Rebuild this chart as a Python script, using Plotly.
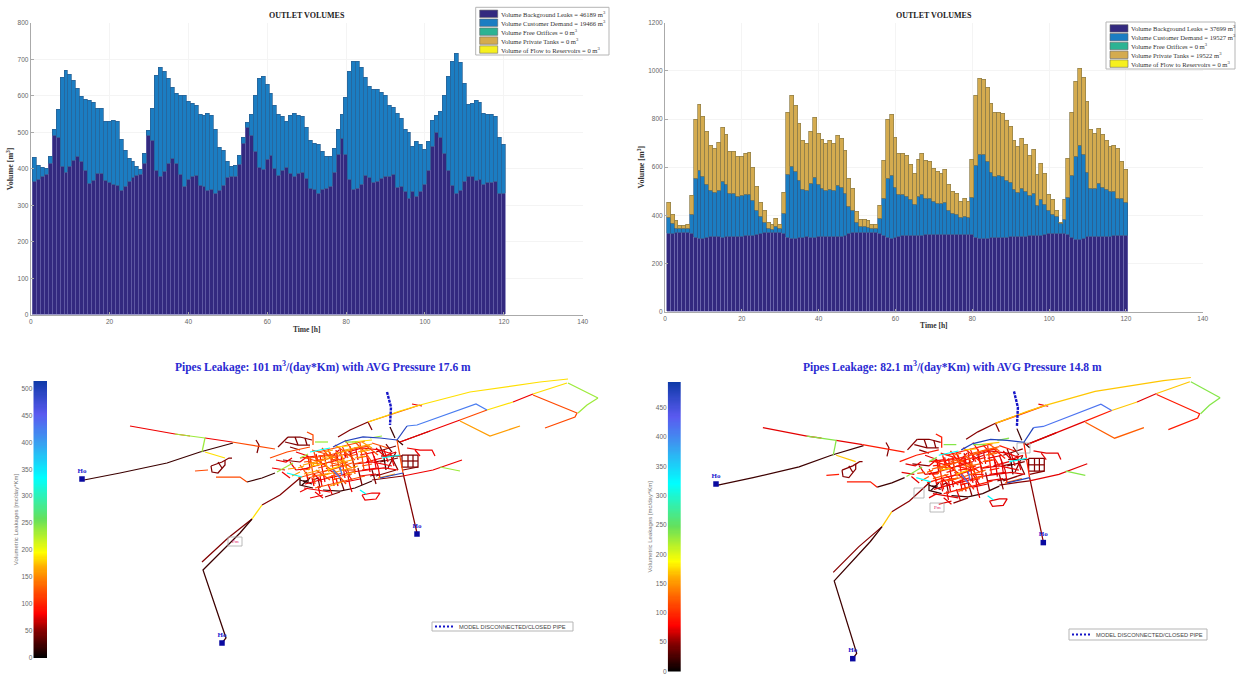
import numpy as np
import plotly.graph_objects as go

W, H = 1236, 675

hours = list(range(1, 121))

left_leaks = [365,370,378,385,415,492,485,405,390,405,422,433,420,395,360,368,388,388,367,362,
              357,355,340,350,365,375,380,385,413,490,478,395,378,392,415,428,413,383,352,370,
              378,380,353,352,340,343,332,340,354,376,378,378,412,470,512,492,447,403,397,424,
              437,400,380,395,404,388,378,388,390,374,347,342,331,342,347,351,390,438,482,438,
              370,342,345,358,380,376,362,365,372,379,379,383,349,351,338,319,338,324,338,356,
              394,461,499,486,442,394,353,331,340,365,379,379,368,371,358,363,362,365,333,333]
left_total = [430,410,402,400,432,507,562,650,668,657,640,620,597,590,587,581,565,565,528,530,
              532,530,481,450,428,420,405,398,442,505,565,655,676,667,648,623,607,601,600,584,
              578,572,549,545,550,546,508,459,449,420,407,408,436,485,527,549,601,648,653,630,
              607,572,547,543,530,545,552,545,543,514,476,470,465,447,433,433,456,508,547,595,
              666,692,692,677,650,625,616,616,609,601,572,567,552,538,506,499,461,473,465,453,
              474,531,545,557,600,652,692,715,691,634,576,577,587,581,552,547,547,543,486,465]

right_leaks = [323,325,326,327,328,328,325,307,303,303,308,310,310,310,308,310,311,312,313,313,
               314,315,316,318,322,326,330,330,330,328,322,308,303,302,306,308,310,309,309,310,
               310,310,310,311,311,312,317,322,326,328,328,328,327,327,326,322,316,306,303,308,
               312,314,315,316,316,316,317,318,318,318,318,318,318,318,319,320,320,320,320,318,
               309,302,302,304,306,307,307,308,309,310,310,311,311,312,314,314,316,317,318,322,
               323,324,325,325,318,306,300,300,303,311,310,311,312,312,313,313,314,315,315,316]
right_demand_top = [390,367,346,343,343,343,401,553,587,560,529,501,495,501,538,526,491,490,477,482,
                    487,487,459,419,394,371,346,342,353,346,408,567,602,581,543,508,504,533,558,526,
                    509,502,505,501,522,515,489,436,419,369,353,352,349,343,343,385,471,553,565,516,
                    486,484,477,464,446,477,487,470,468,457,447,447,454,419,408,401,390,394,390,473,
                    605,653,651,623,579,561,563,561,545,534,505,495,512,498,480,491,441,464,443,419,
                    404,394,367,381,475,563,644,688,653,577,509,509,530,516,505,500,498,468,468,452]
right_total = [452,404,376,358,358,362,480,799,861,811,746,689,675,702,765,736,664,664,643,643,
               657,659,600,519,452,419,371,360,386,360,495,826,895,855,782,709,699,746,807,738,
               713,696,709,699,729,717,667,554,512,415,383,383,376,362,362,440,626,799,819,722,
               656,656,648,609,574,630,657,627,623,595,581,574,591,526,498,490,457,468,457,630,
               896,969,965,931,862,828,828,822,794,767,710,685,717,692,648,671,570,616,572,484,
               464,418,371,464,634,826,955,1008,973,872,757,738,761,733,709,685,689,675,624,588]
no_volume = [0] * 120

left_legend = ["Volume Background Leaks = 46189 m<sup>3</sup>", "Volume Customer Demand = 19466 m<sup>3</sup>",
               "Volume Free Orifices = 0 m<sup>3</sup>", "Volume Private Tanks = 0 m<sup>3</sup>",
               "Volume of Flow to Reservoirs = 0 m<sup>3</sup>"]
right_legend = ["Volume Background Leaks = 37699 m<sup>3</sup>", "Volume Customer Demand = 19527 m<sup>3</sup>",
                "Volume Free Orifices = 0 m<sup>3</sup>", "Volume Private Tanks = 19522 m<sup>3</sup>",
                "Volume of Flow to Reservoirs = 0 m<sup>3</sup>"]
series_colors = ["#33297f", "#1b7dc2", "#2cb393", "#d4ab4f", "#f6f01e"]
edge_colors = ["#716cb0", "#2a5f92", "#2cb393", "#8f7d48", "#f6f01e"]

# Pipe network, in one shared map coordinate system, grouped by leakage class.
black_pipes = [
    [(84,480),(120,473),(167,463),(200,452),(233,443)],
    [(222,643),(226,638),(203,570),(240,533),(252,519)],
    [(300,477),(300,485),(313,488)], [(323,490),(340,491),(355,488),(372,481)],
    [(395,438),(390,427)], [(247,482),(262,478),(275,473)], [(303,481),(309,481)],
    [(384,458),(386,470)], [(397,440),(403,445)], [(300,480),(312,484)], [(302,485),(310,478)],
]
maroon_pipes = [
    [(202,562),(228,538),(252,519)], [(262,505),(280,495),(300,478)],
    [(403,473),(410,503),(417,533)], [(211,466),(222,462),(229,458),(232,458)],
    [(211,466),(212,472),(218,473),(225,465),(225,460)], [(218,462),(222,468)],
    [(288,437),(300,437),(312,440)], [(278,447),(288,437)], [(285,442),(298,445),(310,445)],
    [(290,447),(300,450)], [(295,437),(298,445)], [(305,438),(307,445)],
    [(338,437),(350,430),(368,422)], [(368,422),(372,430)], [(400,442),(430,431)],
    [(402,455),(418,455),(418,467),(402,467),(402,455)], [(408,455),(408,467)],
    [(413,455),(413,467)], [(402,461),(418,461)], [(381,456),(402,456)],
    [(372,480),(403,476)], [(403,470),(418,467)], [(313,480),(318,478),(320,488)],
    [(340,478),(344,490)], [(358,468),(362,485)], [(325,497),(340,492)],
    [(283,460),(300,462)], [(256,440),(259,445),(257,453)],
    [(376,452),(396,446)], [(380,446),(384,456)], [(386,444),(392,452)], [(372,470),(376,484)],
    [(350,452),(355,468)], [(380,462),(398,458)], [(388,468),(396,452)], [(376,476),(396,470)],
    [(375,462),(385,460)], [(370,476),(380,474)], [(392,458),(398,470)],
]
red_pipes = [
    [(130,426),(175,434)], [(205,438),(232,442)], [(403,476),(420,473),(433,470),(462,460)],
    [(407,448),(420,450),(432,450),(435,456)], [(415,450),(420,456)],
    [(310,498),(323,495)], [(315,492),(323,498)], [(362,495),(372,493),(380,493),(376,499),(365,500),(362,495)],
    [(348,452),(362,448),(380,450),(392,454)], [(376,448),(384,456),(396,452)],
    [(355,464),(372,462),(392,466)], [(352,472),(368,470),(384,468),(398,470)],
    [(360,476),(376,474)], [(378,466),(380,478)], [(368,458),(370,472)], [(345,482),(360,479)],
    [(300,470),(315,466),(330,462),(345,458)], [(305,484),(320,480),(338,476),(352,472)],
    [(320,455),(322,468),(325,482)], [(340,449),(342,462),(345,478)], [(533,394),(513,402)],
    [(400,442),(430,431),(460,420)], [(306,472),(308,480)], [(332,475),(334,486)],
    [(350,486),(352,492)], [(296,452),(308,456),(300,462)], [(412,404),(422,406)],
    [(296,470),(310,468)], [(300,458),(316,456)], [(304,488),(330,492)], [(318,486),(320,494)],
    [(328,484),(332,494)], [(345,470),(352,480)], [(360,455),(375,452)], [(366,462),(382,458)],
    [(372,452),(378,466)], [(384,450),(388,462)], [(390,452),(394,466)], [(362,470),(378,468)],
    [(326,468),(336,474)], [(314,474),(322,482)], [(344,456),(356,452)], [(333,456),(339,450)],
    [(272,468),(285,470)], [(276,460),(286,462),(292,458)], [(290,462),(296,470)], [(282,472),(290,478)],
    [(300,492),(308,488)], [(308,456),(310,468)], [(316,454),(318,462)], [(324,454),(326,464)],
    [(336,450),(338,460)], [(344,450),(346,458)], [(356,450),(358,460)], [(366,452),(368,462)],
    [(374,456),(376,468)], [(312,478),(314,486)], [(320,476),(322,486)], [(336,478),(338,486)],
    [(348,476),(350,486)],
]
orange_pipes = [
    [(175,434),(190,436)], [(232,442),(260,447),(275,449)], [(216,477),(240,477),(247,482)],
    [(270,458),(287,452),(310,447)], [(195,471),(208,470)], [(533,395),(577,413),(575,417),(545,428)],
    [(460,420),(487,410)], [(310,458),(325,456),(342,452),(358,448)],
    [(298,478),(312,474),(330,470),(348,465)], [(318,452),(335,448),(350,444),(365,441)],
    [(315,488),(332,484),(350,480),(365,476)], [(310,458),(312,470),(315,484)],
    [(330,452),(332,465),(335,480)], [(350,446),(352,458),(355,474)], [(360,443),(362,455),(364,470)],
    [(316,462),(330,458),(346,454)], [(322,472),(338,467),(352,463)], [(326,478),(342,473)],
    [(328,450),(334,462)], [(336,456),(340,470)], [(314,452),(318,466)], [(346,466),(350,476)],
    [(307,432),(313,435),(313,445)], [(397,440),(403,473)], [(368,422),(395,413),(420,405)],
    [(335,445),(345,452),(355,460)], [(345,440),(352,450)], [(355,442),(365,452),(372,462)],
    [(365,445),(378,455)], [(372,443),(388,448)], [(300,465),(308,476)], [(306,458),(320,462),(332,470)],
    [(312,450),(326,454),(340,460),(352,468)], [(322,448),(330,458)], [(316,470),(330,480)],
    [(334,470),(346,484)], [(308,462),(326,465)], [(312,476),(326,474)], [(328,462),(344,466)],
    [(340,470),(356,470)], [(316,458),(322,464)], [(342,446),(348,458)], [(354,448),(370,446)],
    [(304,458),(312,457)], [(304,462),(312,461)], [(318,456),(326,455)], [(318,460),(326,459)],
    [(330,456),(338,455)], [(330,460),(338,459)], [(304,470),(310,469)], [(318,468),(326,466)],
    [(330,466),(338,465)], [(340,464),(348,462)], [(308,478),(316,476)], [(320,476),(328,474)],
    [(332,480),(340,478)], [(342,476),(352,474)], [(350,456),(358,454)], [(354,464),(362,462)],
    [(358,458),(368,456)], [(362,466),(372,464)],
]
amber_pipes = [
    [(303,465),(318,461),(335,457)], [(325,475),(340,471),(358,466)], [(345,450),(360,447),(372,444)],
    [(304,474),(320,470)], [(338,463),(352,460)], [(318,476),(330,473)], [(325,461),(329,472)],
    [(342,456),(346,468)], [(460,421),(490,436),(520,426)], [(378,478),(395,474)], [(288,469),(296,468)],
    [(358,452),(368,449)], [(362,442),(372,448)], [(330,486),(342,482)], [(292,476),(300,472)],
    [(336,452),(342,456)], [(308,470),(314,464)], [(322,458),(332,456)], [(310,464),(318,463)],
    [(335,462),(345,460)], [(340,452),(352,450)], [(355,458),(365,456)], [(345,474),(355,472)],
    [(360,452),(370,450)], [(325,452),(333,450)], [(298,468),(304,466)],
]
yellow_pipes = [
    [(368,422),(400,411),(420,405),(470,392),(540,382),(568,379)], [(487,410),(513,402)],
    [(533,394),(567,383)], [(205,452),(225,458)], [(328,470),(340,466)], [(352,442),(372,440)],
    [(336,447),(348,446)], [(252,519),(262,505)], [(312,466),(322,464)],
]
lime_pipes = [
    [(175,434),(205,438)], [(205,438),(202,452)], [(440,467),(460,471)], [(568,383),(598,398)],
    [(598,398),(587,405),(578,413)], [(315,442),(328,442)], [(370,438),(382,436)], [(277,472),(293,463)],
    [(345,442),(358,442)], [(300,458),(308,454)],
]
cyan_pipes = [
    [(310,452),(330,448)], [(287,473),(302,477)], [(360,490),(366,494)], [(382,458),(400,455)],
]
blue_pipes = [
    [(407,426),(417,425),(476,404),(487,410)], [(340,467),(342,475)], [(333,470),(340,478)],
]
navy_pipes = [
    [(333,447),(345,441),(363,437),(380,438),(397,440)], [(397,440),(407,426)], [(403,473),(380,478)],
]
disconnected_pipes = [[(387,392),(391,407),(390,425)]]

pipe_groups = [maroon_pipes, black_pipes, red_pipes, orange_pipes, amber_pipes, yellow_pipes,
               lime_pipes, cyan_pipes, blue_pipes, navy_pipes]
leak_left = [48, 22, 78, 120, 160, 185, 235, 330, 425, 495]
leak_right = [48, 22, 72, 92, 125, 170, 235, 320, 415, 480]

reservoir_x = [82, 222, 417]
reservoir_y = [479, 643, 534]
reservoir_names = ["Ho", "Ho", "Ho"]

cbar_stops = [[0, "#000000"], [0.10, "#8a0000"], [0.16, "#ff0000"], [0.25, "#ff5a00"], [0.33, "#ffb000"],
              [0.38, "#ffff00"], [0.50, "#66e05a"], [0.65, "#00ffff"], [0.78, "#3a9cf0"], [0.88, "#5a5af0"],
              [1, "#0f3aa8"]]


def color_at(frac):
    xs = [s[0] for s in cbar_stops]
    rgb = [[int(s[1][i:i + 2], 16) for i in (1, 3, 5)] for s in cbar_stops]
    return "rgb(%d,%d,%d)" % tuple(np.interp(frac, xs, [c[k] for c in rgb]) for k in range(3))


def dom_x(a, b):
    return [a / W, b / W]


def dom_y(top, bottom):
    return [1 - bottom / H, 1 - top / H]


fig = go.Figure()
layout = dict(width=W, height=H, margin=dict(l=0, r=0, t=0, b=0, pad=0, autoexpand=False), paper_bgcolor="white",
              plot_bgcolor="white", showlegend=False, barmode="stack", bargap=0, shapes=[], annotations=[])
serif = "Liberation Serif"
sans = "Liberation Sans"


def add_bars(n, xdom, ydom, ymax, ytick, series):
    for vals, color, edge in zip(series, series_colors, edge_colors):
        width = 0.7 if any(vals) else 0
        fig.add_trace(go.Bar(x=hours, y=vals, marker=dict(color=color, line=dict(color=edge, width=width)),
                             xaxis=f"x{n}", yaxis=f"y{n}"))
    axis = dict(showgrid=True, gridcolor="#f4f4f4", gridwidth=1, zeroline=False, showline=True, linecolor="#aaaaaa",
                ticks="inside", ticklen=3, tickcolor="#aaaaaa", tickfont=dict(family=sans, size=6.5, color="#666666"))
    layout[f"xaxis{n}"] = dict(domain=dom_x(*xdom), range=[0, 140], dtick=20, anchor=f"y{n}",
                               title=dict(text="<b>Time [h]</b>", standoff=2, font=dict(family=serif, size=7.5, color="#333333")),
                               **axis)
    layout[f"yaxis{n}"] = dict(domain=dom_y(*ydom), range=[0, ymax], dtick=ytick, anchor=f"x{n}",
                               title=dict(text="<b>Volume [m<sup>3</sup>]</b>", standoff=2,
                                          font=dict(family=serif, size=8, color="#333333")), **axis)


def text(x, y, s, size, color, family, anchor="left", angle=0):
    layout["annotations"].append(dict(x=x / W, y=1 - y / H, xref="paper", yref="paper", text=s, showarrow=False,
                                      xanchor=anchor, yanchor="middle", textangle=angle, borderpad=0,
                                      font=dict(size=size, color=color, family=family)))


def rect(x0, y0, x1, y1, line="#b5b5b5", fill="white", width=1):
    layout["shapes"].append(dict(type="rect", xref="paper", yref="paper", x0=x0 / W, x1=x1 / W,
                                 y0=1 - y0 / H, y1=1 - y1 / H, line=dict(color=line, width=width), fillcolor=fill,
                                 layer="above"))


def bar_legend(x0, y0, x1, y1, labels):
    rect(x0, y0, x1, y1)
    step = (y1 - y0 - 3) / 5
    for i, (lab, col) in enumerate(zip(labels, series_colors)):
        yc = y0 + 2 + step * (i + 0.5)
        rect(x0 + 4, yc - 3.7, x0 + 22, yc + 3.7, line="#666666", fill=col, width=0.6)
        text(x0 + 24, yc, lab, 6.6, "#333333", serif)


add_bars(1, (30.7, 582.7), (22.7, 315), 800, 100,
         [left_leaks, [t - l for t, l in zip(left_total, left_leaks)], no_volume, no_volume, no_volume])
add_bars(2, (665, 1202.7), (22.7, 311.7), 1200, 200,
         [right_leaks, [d - l for d, l in zip(right_demand_top, right_leaks)], no_volume,
          [t - d for t, d in zip(right_total, right_demand_top)], no_volume])
text(306.5, 16, "<b>OUTLET VOLUMES</b>", 8, "#222222", serif, "center")
text(933.5, 16, "<b>OUTLET VOLUMES</b>", 8, "#222222", serif, "center")
bar_legend(475.7, 7.3, 609, 55, left_legend)
bar_legend(1106, 22, 1235, 69, right_legend)


def add_map(n, xdom, ydom, xr, yr, values, vmax, cbar_dom, cbar_ydom, tick_vals):
    for group, v in zip(pipe_groups, values):
        xs, ys = [], []
        for path in group:
            xs += [p[0] for p in path] + [None]
            ys += [p[1] for p in path] + [None]
        fig.add_trace(go.Scatter(x=xs, y=ys, mode="lines", line=dict(color=color_at(v / vmax), width=1.25),
                                 xaxis=f"x{n}", yaxis=f"y{n}", hoverinfo="skip"))
    xs, ys = [], []
    for path in disconnected_pipes:
        xs += [p[0] for p in path] + [None]
        ys += [p[1] for p in path] + [None]
    fig.add_trace(go.Scatter(x=xs, y=ys, mode="lines", line=dict(color="#1414c8", width=2.4, dash="3px,1px"),
                             xaxis=f"x{n}", yaxis=f"y{n}", name="MODEL DISCONNECTED/CLOSED PIPE"))
    fig.add_trace(go.Scatter(x=reservoir_x, y=reservoir_y, mode="markers+text", text=[f"<b>{s}</b>" for s in reservoir_names],
                             textposition="top center", textfont=dict(family=serif, size=7, color="#2020d0"),
                             marker=dict(symbol="square", size=5.5, color="#0a0aa0"),
                             xaxis=f"x{n}", yaxis=f"y{n}"))
    blank = dict(visible=False, showgrid=False, zeroline=False)
    layout[f"xaxis{n}"] = dict(domain=dom_x(*xdom), range=xr, anchor=f"y{n}", **blank)
    layout[f"yaxis{n}"] = dict(domain=dom_y(*ydom), range=yr, anchor=f"x{n}", **blank)
    # colour bar on its own axes
    m = n + 2
    levels = np.linspace(0, vmax, 256)
    fig.add_trace(go.Heatmap(x=[0], y=levels, z=[[v] for v in levels], zmin=0, zmax=vmax, showscale=False,
                             colorscale=cbar_stops, xaxis=f"x{m}", yaxis=f"y{m}", hoverinfo="skip"))
    layout[f"xaxis{m}"] = dict(domain=dom_x(*cbar_dom), anchor=f"y{m}", visible=False, range=[-0.5, 0.5])
    layout[f"yaxis{m}"] = dict(domain=dom_y(*cbar_ydom), anchor=f"x{m}", range=[0, vmax], tickvals=tick_vals,
                               showgrid=False, zeroline=False, showline=False, ticks="",
                               tickfont=dict(family=sans, size=6.5, color="#666666"),
                               title=dict(text="Volumetric Leakages [mc/day*Km]", standoff=2,
                                          font=dict(family=sans, size=6, color="#777777")))


left_ticks = list(range(0, 501, 50))
right_ticks = list(range(0, 451, 50))
add_map(3, (60, 620), (375, 670), [60, 620], [670, 375], leak_left, 513.6, (33.3, 47), (381, 658), left_ticks)


def rx(px):
    return 82 + (px - 716) / 0.977


def ry(py):
    return 479 + (py - 484) / 1.065


add_map(4, (690, 1236), (375, 675), [rx(690), rx(1236)], [ry(675), ry(375)], leak_right, 494,
        (667.7, 681), (382, 671.5), right_ticks)


def tag_box(x0, y0, x1, y1, label):
    rect(x0, y0, x1, y1, line="#a8a8a8", fill="rgba(255,255,255,0)", width=0.8)
    if label:
        text((x0 + x1) / 2, (y0 + y1) / 2, label, 5, "#e0206a", serif, "center")


title_blue = "#2a2ad2"
text(323, 366, "<b>Pipes Leakage: 101 m<sup>3</sup>/(day*Km) with AVG Pressure 17.6 m</b>", 11.5, title_blue, serif, "center")
text(952, 366, "<b>Pipes Leakage: 82.1 m<sup>3</sup>/(day*Km) with AVG Pressure 14.8 m</b>", 11.5, title_blue, serif, "center")
tag_box(228, 537, 242, 546, "Pm")
tag_box(914, 488, 924, 498, "")
tag_box(930, 503, 944, 512, "Pm")
tag_box(1017, 443, 1030, 453, "")


def pipe_legend(x0, y0, x1, y1):
    rect(x0, y0, x1, y1, line="#b5b5b5", fill="white")
    yc = (y0 + y1) / 2
    layout["shapes"].append(dict(type="line", xref="paper", yref="paper", x0=(x0 + 3) / W, x1=(x0 + 23) / W,
                                 y0=1 - yc / H, y1=1 - yc / H, layer="above",
                                 line=dict(color="#1414c8", width=2, dash="2px,2px")))
    text(x0 + 26, yc, "MODEL DISCONNECTED/CLOSED PIPE", 5.7, "#444444", sans)


pipe_legend(432, 622, 573, 631)
pipe_legend(1069, 629, 1207, 640)

fig.update_layout(**layout)
fig.write_html("out.html", config=dict(displayModeBar=False),
               post_script="document.body.style.margin='0';document.body.style.overflow='hidden';")
